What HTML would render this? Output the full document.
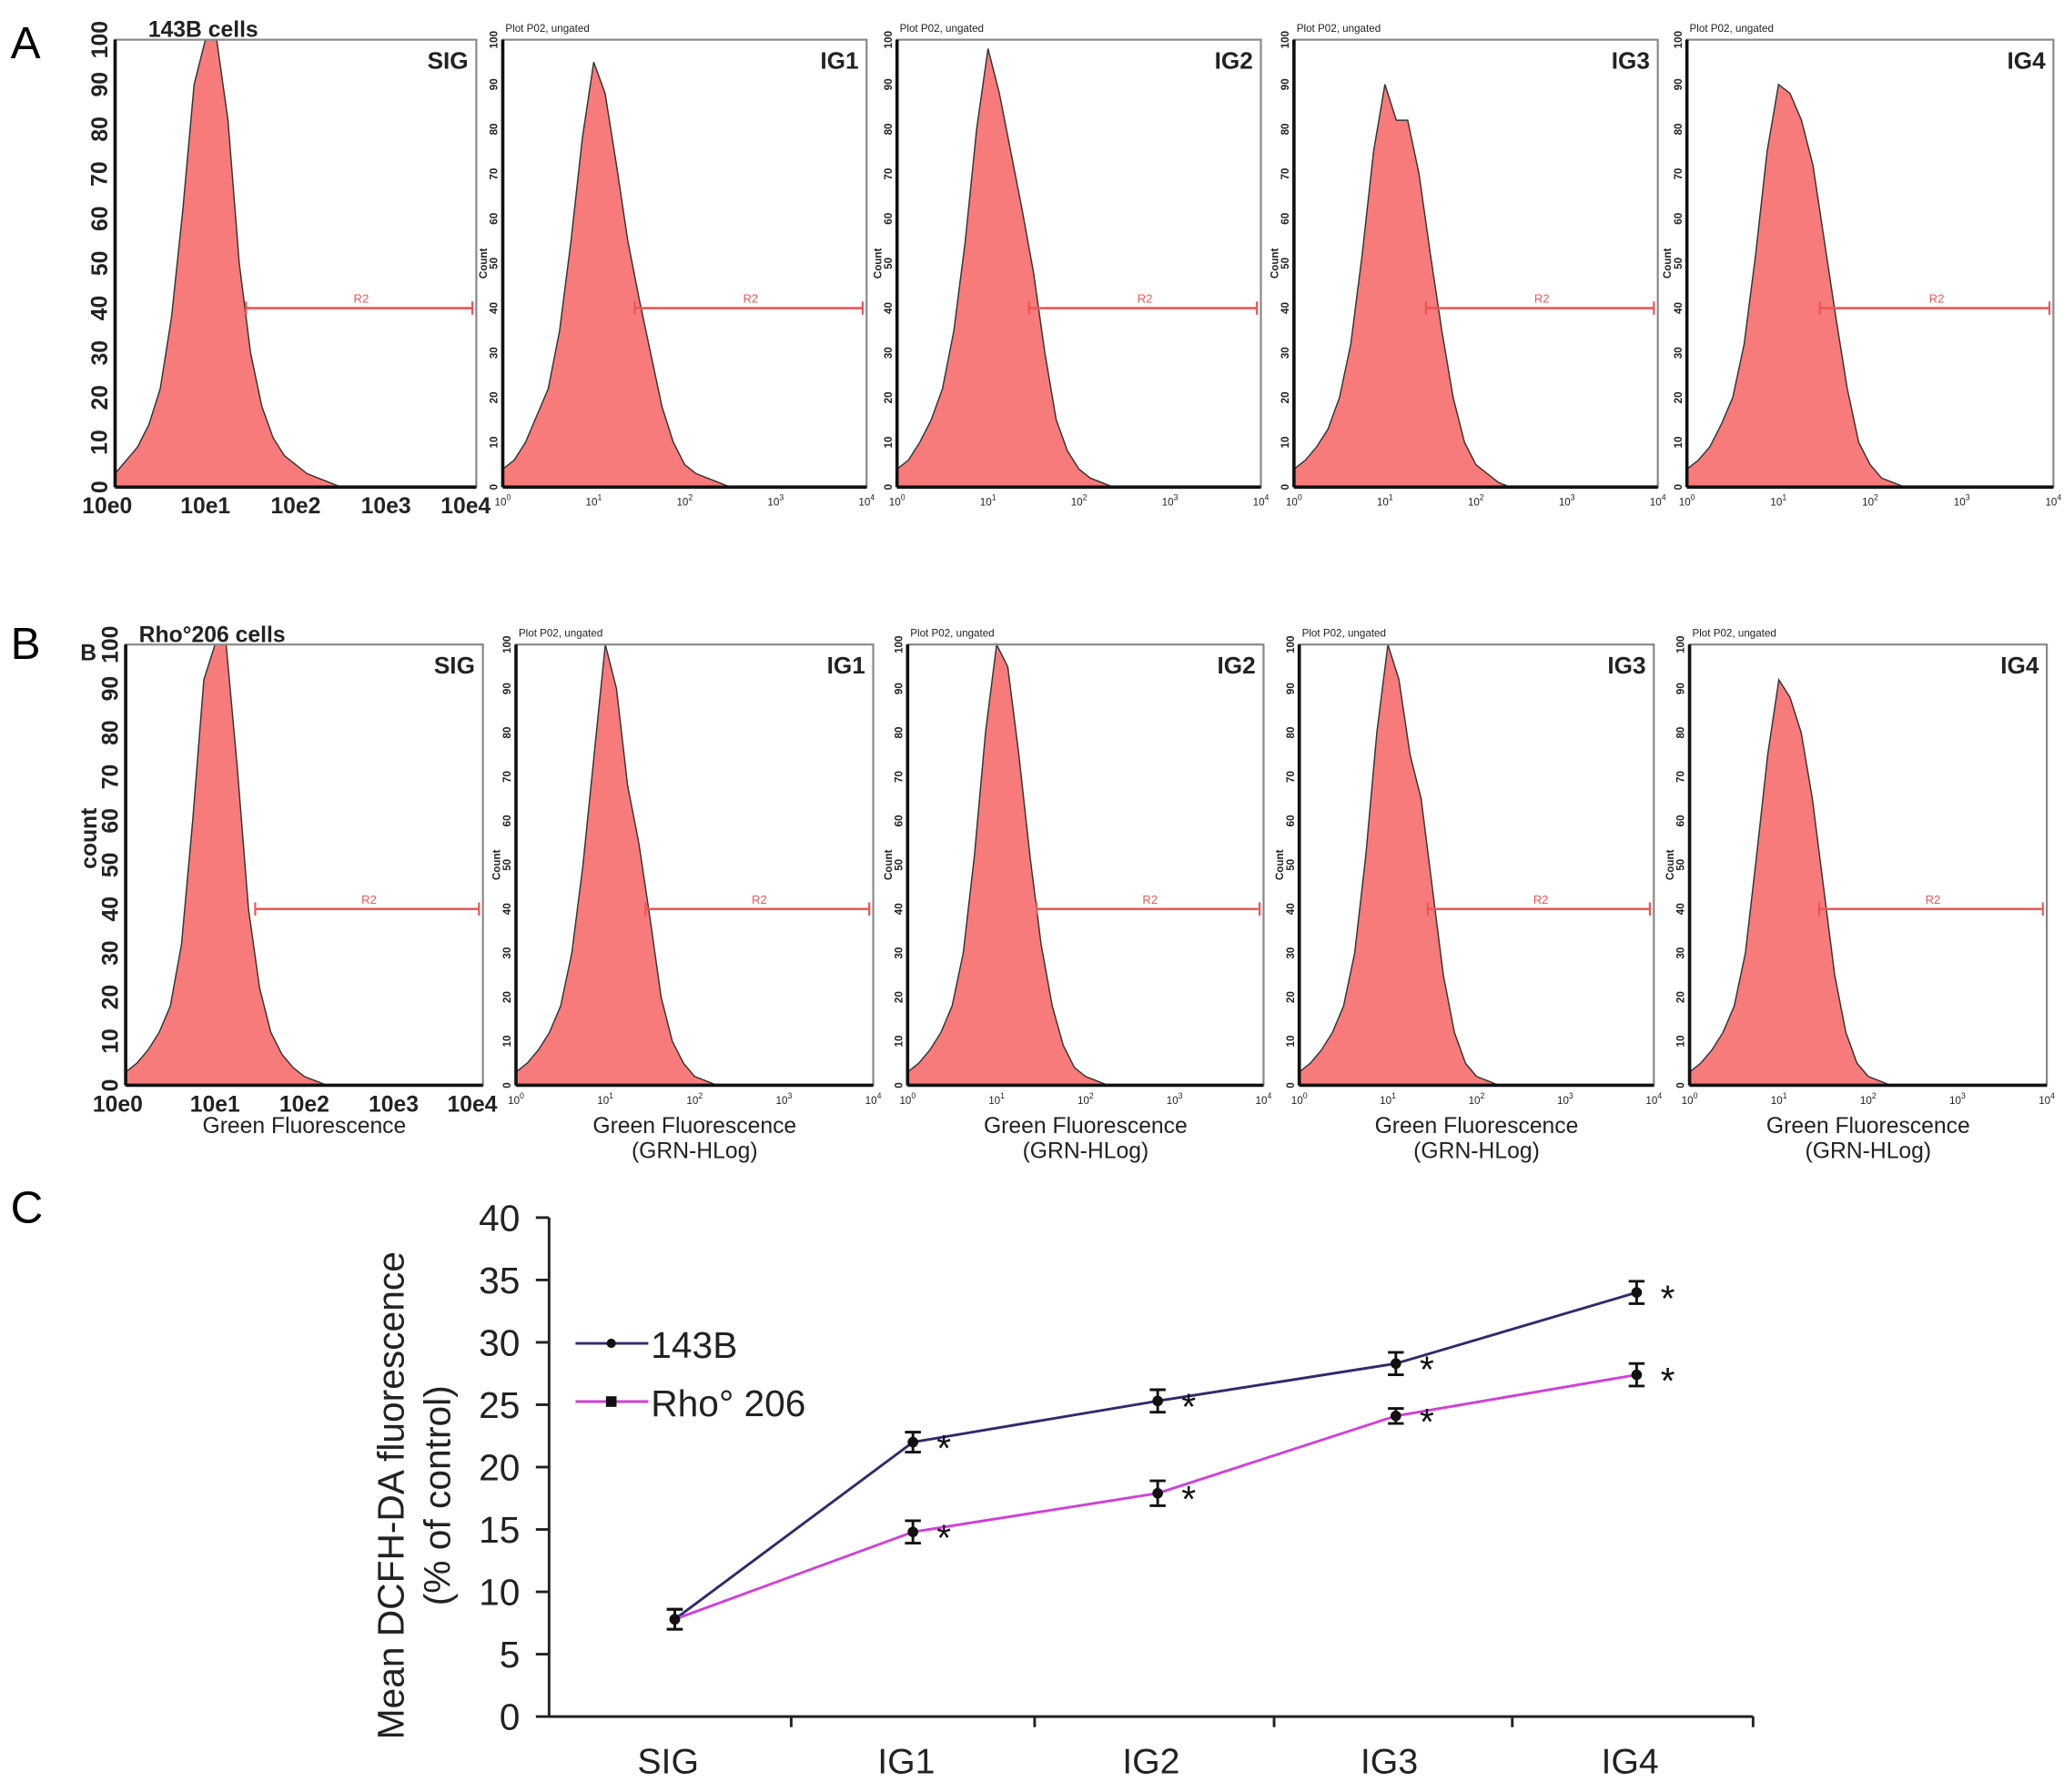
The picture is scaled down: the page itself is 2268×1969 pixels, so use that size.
<!DOCTYPE html>
<html><head><meta charset="utf-8"><style>
html,body{margin:0;padding:0;background:#fff;}
svg{display:block;font-family:"Liberation Sans",sans-serif;}
</style></head><body>
<svg id="fig" width="2268" height="1969" viewBox="0 0 1560 1354" preserveAspectRatio="none" xmlns="http://www.w3.org/2000/svg">
<rect width="1560" height="1354" fill="#fff"/>
<text x="8" y="44" font-size="34">A</text>
<text x="8" y="498" font-size="34">B</text>
<text x="8" y="924" font-size="34">C</text>
<g id="hists"></g>
<g id="chartC"></g>
</svg>
<script>
// Histogram counts (0-100), sampled every 0.125 decade from 10^0 to 10^3
const histA_SIG=[3,6,9,14,22,38,62,90,100,100,82,50,30,18,11,7,5,3,2,1,0,0,0,0,0];
const histA_IG1=[4,6,10,16,22,35,55,78,95,88,72,55,42,30,18,10,5,3,2,1,0,0,0,0,0];
const histA_IG2=[4,6,10,15,22,35,55,80,98,88,75,62,48,30,15,8,4,2,1,0,0,0,0,0,0];
const histA_IG3=[4,6,9,13,20,32,52,75,90,82,82,70,52,35,20,10,5,3,1,0,0,0,0,0,0];
const histA_IG4=[4,6,9,14,20,32,52,75,90,88,82,72,55,38,22,10,5,2,1,0,0,0,0,0,0];
const histB_SIG=[3,5,8,12,18,32,60,92,100,100,72,40,22,12,7,4,2,1,0,0,0,0,0,0,0];
const histB_IG1=[3,5,8,12,18,30,50,75,100,90,68,55,38,20,10,5,2,1,0,0,0,0,0,0,0];
const histB_IG2=[3,5,8,12,18,30,52,80,100,95,75,52,32,18,9,4,2,1,0,0,0,0,0,0,0];
const histB_IG3=[3,5,8,12,18,30,52,80,100,92,75,65,45,25,12,5,2,1,0,0,0,0,0,0,0];
const histB_IG4=[3,5,8,12,18,30,52,75,92,88,80,65,45,25,12,5,2,1,0,0,0,0,0,0,0];
const panelNames=["SIG","IG1","IG2","IG3","IG4"];
const rowAHists=[histA_SIG,histA_IG1,histA_IG2,histA_IG3,histA_IG4];
const rowBHists=[histB_SIG,histB_IG1,histB_IG2,histB_IG3,histB_IG4];
const countTicks=[0,10,20,30,40,50,60,70,80,90,100];
const decadeLabelsBig=["10e0","10e1","10e2","10e3","10e4"];
const decadeExp=["0","1","2","3","4"];
const gateCount=40;
const gateStartDecade=[1.45,1.45,1.45,1.45,1.45];

// Chart C data
const catsC=["SIG","IG1","IG2","IG3","IG4"];
const series143B=[7.8,22.0,25.3,28.3,34.0];
const seriesRho=[7.8,14.8,17.9,24.1,27.4];
const err143B=[0.8,0.8,0.9,0.9,0.9];
const errRho=[0.8,0.9,1.0,0.6,0.9];
const yTicksC=[0,5,10,15,20,25,30,35,40];

const NS="http://www.w3.org/2000/svg";
function mk(tag,attrs,parent,txt){const e=document.createElementNS(NS,tag);for(const k in attrs)e.setAttribute(k,attrs[k]);if(txt!==undefined)e.textContent=txt;parent.appendChild(e);return e;}

const boxesA=[[87,30,360,368],[380,30,655,368],[678,30,953,368],[978,30,1253,368],[1275,30,1552,368]];
const boxesB=[[95,487,365,820],[390,487,660,820],[686,487,955,820],[982,487,1250,820],[1277,487,1547,820]];
const hg=document.getElementById('hists');

function drawPanel(box,hist,idx,row){
  const [x0,y0,x1,y1]=box;
  const g=mk('g',{},hg);
  
  
  const xs=d=>x0+d/4*(x1-x0);
  const ys=c=>y1-c/100*(y1-y0);
  let pts=[[xs(0),ys(0)]];
  hist.forEach((v,i)=>pts.push([xs(i*0.125),ys(v)]));
  pts.push([xs((hist.length-1)*0.125),ys(0)]);
  const poly=mk('polygon',{points:pts.map(p=>p.join(',')).join(' '),fill:'#f77b7b',stroke:'#333','stroke-width':1},g);
  
  
  const fr=mk('rect',{x:x0,y:y0,width:x1-x0,height:y1-y0,fill:'none',stroke:'#888','stroke-width':1.5},g);
  
  
  mk('line',{x1:x0,y1:y0,x2:x0,y2:y1,stroke:'#111','stroke-width':2.5},g);
  mk('line',{x1:x0,y1:y1,x2:x1,y2:y1,stroke:'#111','stroke-width':2.5},g);
  // gate
  const gy=ys(gateCount), gx=xs(gateStartDecade[idx]);
  const gl=mk('line',{x1:gx,y1:gy,x2:x1-3,y2:gy,stroke:'#e55','stroke-width':1.8},g);
  
  
  mk('line',{x1:gx,y1:gy-5,x2:gx,y2:gy+5,stroke:'#e55','stroke-width':1.5},g);
  mk('line',{x1:x1-3,y1:gy-5,x2:x1-3,y2:gy+5,stroke:'#e55','stroke-width':1.5},g);
  mk('text',{x:(gx+x1)/2,y:gy-4,'font-size':9,fill:'#e55','text-anchor':'middle'},g,'R2');
  const nm=mk('text',{x:x1-6,y:y0+22,'font-size':18,'font-weight':'bold','text-anchor':'end',fill:'#222'},g,panelNames[idx]);
  
  
  if(idx===0){
    countTicks.forEach(t=>{const y=ys(t);const tx=mk('text',{x:x0-6,y:y,'font-size':17,'font-weight':'bold','text-anchor':'middle',transform:`rotate(-90 ${x0-6} ${y})`,fill:'#222'},g,String(t));});
    decadeLabelsBig.forEach((l,i)=>mk('text',{x:xs(i)+(i===0?-6:0)+(i===4?-8:0),y:y1+20,'font-size':17,'font-weight':'bold','text-anchor':'middle',fill:'#222'},g,l));
    const ct=mk('text',{x:row==='a'?x0+25:x0+10,y:y0-2,'font-size':17,'font-weight':'bold',fill:'#222'},g,row==='a'?'143B cells':'Rho°206 cells');
    
    
    if(row==='b'){
      mk('text',{x:x0-22,y:y0+12,'font-size':17,'font-weight':'bold',fill:'#222','text-anchor':'end'},g,'B');
      const yl=mk('text',{x:x0-22,y:(y0+y1)/2-20,'font-size':17,'font-weight':'bold','text-anchor':'middle',transform:`rotate(-90 ${x0-22} ${(y0+y1)/2-20})`,fill:'#222'},g,'count');
      
      
    }
  } else {
    countTicks.forEach(t=>{const y=ys(t);mk('text',{x:x0-4,y:y,'font-size':8,'font-weight':'bold','text-anchor':'middle',transform:`rotate(-90 ${x0-4} ${y})`,fill:'#222'},g,String(t));});
    const cy=(y0+y1)/2;
    mk('text',{x:x0-12,y:cy,'font-size':8,'font-weight':'bold','text-anchor':'middle',transform:`rotate(-90 ${x0-12} ${cy})`,fill:'#222'},g,'Count');
    mk('text',{x:x0+2,y:y0-6,'font-size':8,fill:'#222'},g,'Plot P02, ungated');
    decadeExp.forEach((l,i)=>{const t=mk('text',{x:xs(i),y:y1+14,'font-size':8,'text-anchor':'middle',fill:'#222'},g,'10');mk('tspan',{dy:-4,'font-size':6},t,l);});
  }
  if(row==='b'){
    const cx=(x0+x1)/2;
    const xl=mk('text',{x:cx,y:y1+36,'font-size':17,'text-anchor':'middle',fill:'#222'},g,'Green Fluorescence');
    
    
    if(idx>0) mk('text',{x:cx,y:y1+55,'font-size':17,'text-anchor':'middle',fill:'#222'},g,'(GRN-HLog)');
  }
}
boxesA.forEach((b,i)=>drawPanel(b,rowAHists[i],i,'a'));
boxesB.forEach((b,i)=>drawPanel(b,rowBHists[i],i,'b'));

// Chart C
const cg=document.getElementById('chartC');
const AX0=415, AX1=1325, AY0=1297, AY1=920;
const catX=[510,690,875,1055,1237];
const yC=v=>AY0-v/40*(AY0-AY1);
const xC=i=>catX[i];
const ax=mk('g',{},cg);


mk('line',{x1:AX0,y1:AY1,x2:AX0,y2:AY0,stroke:'#222','stroke-width':2},ax);
mk('line',{x1:AX0,y1:AY0,x2:AX1,y2:AY0,stroke:'#222','stroke-width':2},ax);
yTicksC.forEach(t=>{const y=yC(t);mk('line',{x1:AX0-10,y1:y,x2:AX0,y2:y,stroke:'#222','stroke-width':2},ax);
  const tl=mk('text',{x:AX0-22,y:y+10,'font-size':28,'text-anchor':'end',fill:'#222'},ax,String(t));
  
  });
[598,782,963,1143,1325].forEach(x=>mk('line',{x1:x,y1:AY0,x2:x,y2:AY0+8,stroke:'#222','stroke-width':2},ax));
catsC.forEach((c,i)=>{const tl=mk('text',{x:xC(i)-5,y:1340,'font-size':27,'text-anchor':'middle',fill:'#222'},ax,c);
  
  });
const yt=mk('text',{'font-size':28,'text-anchor':'middle',fill:'#222',transform:'translate(305,1130) rotate(-90)'},cg);
mk('tspan',{x:0,y:0},yt,'Mean DCFH-DA fluorescence');
mk('tspan',{x:0,y:35},yt,'(% of control)');



function drawSeries(vals,errs,color,name,marker){
  const g=mk('g',{},cg);
  
  
  const line=mk('polyline',{points:vals.map((v,i)=>xC(i)+','+yC(v)).join(' '),fill:'none',stroke:color,'stroke-width':2},g);
  
  
  vals.forEach((v,i)=>{
    const x=xC(i),y=yC(v),e=errs[i];
    mk('line',{x1:x,y1:yC(v+e),x2:x,y2:yC(v-e),stroke:'#111','stroke-width':2},g);
    mk('line',{x1:x-6,y1:yC(v+e),x2:x+6,y2:yC(v+e),stroke:'#111','stroke-width':2},g);
    mk('line',{x1:x-6,y1:yC(v-e),x2:x+6,y2:yC(v-e),stroke:'#111','stroke-width':2},g);
    const m=mk('circle',{cx:x,cy:y,r:4,fill:'#111'},g);
    
    
    if(i>0){const s=mk('text',{x:x+18,y:y+14,'font-size':28,fill:'#111'},g,'*');
      
      }
  });
}
drawSeries(series143B,err143B,'#2e2a6e','143b');
drawSeries(seriesRho,errRho,'#d040d8','rho206');

const lg=mk('g',{},cg);


const le1=mk('g',{},lg);


mk('line',{x1:435,y1:1015,x2:490,y2:1015,stroke:'#2e2a6e','stroke-width':2},le1);
mk('circle',{cx:462,cy:1015,r:3.5,fill:'#111'},le1);
mk('text',{x:492,y:1026,'font-size':28,fill:'#222'},le1,'143B');
const le2=mk('g',{},lg);


mk('line',{x1:435,y1:1059,x2:490,y2:1059,stroke:'#d040d8','stroke-width':2},le2);
mk('rect',{x:458,y:1055,width:8,height:8,fill:'#111'},le2);
mk('text',{x:492,y:1070,'font-size':28,fill:'#222'},le2,'Rho° 206');
</script>
</body></html>
